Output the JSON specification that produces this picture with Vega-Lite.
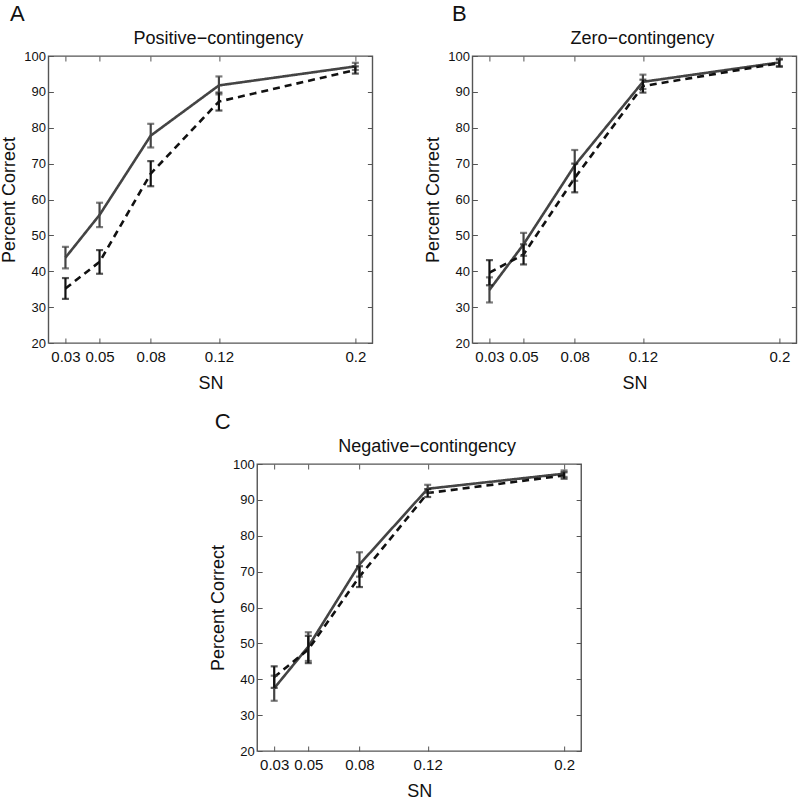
{
  "$schema": "https://vega.github.io/schema/vega-lite/v6.json",
  "padding": {"left": 0, "top": 3, "right": 0, "bottom": 0},
  "background": "white",
  "data": {"values": [
    {"panel": "A", "series": "Series 1", "sn": 0.03, "pc": 43.8, "err": 3.0},
    {"panel": "A", "series": "Series 1", "sn": 0.05, "pc": 55.7, "err": 3.4},
    {"panel": "A", "series": "Series 1", "sn": 0.08, "pc": 77.8, "err": 3.3},
    {"panel": "A", "series": "Series 1", "sn": 0.12, "pc": 91.8, "err": 2.5},
    {"panel": "A", "series": "Series 1", "sn": 0.2, "pc": 97.1, "err": 1.0},
    {"panel": "A", "series": "Series 2", "sn": 0.03, "pc": 35.2, "err": 2.9},
    {"panel": "A", "series": "Series 2", "sn": 0.05, "pc": 42.6, "err": 3.3},
    {"panel": "A", "series": "Series 2", "sn": 0.08, "pc": 67.2, "err": 3.5},
    {"panel": "A", "series": "Series 2", "sn": 0.12, "pc": 87.3, "err": 2.5},
    {"panel": "A", "series": "Series 2", "sn": 0.2, "pc": 96.1, "err": 1.0},
    {"panel": "B", "series": "Series 1", "sn": 0.03, "pc": 34.8, "err": 3.5},
    {"panel": "B", "series": "Series 1", "sn": 0.05, "pc": 47.5, "err": 3.2},
    {"panel": "B", "series": "Series 1", "sn": 0.08, "pc": 69.5, "err": 4.3},
    {"panel": "B", "series": "Series 1", "sn": 0.12, "pc": 92.8, "err": 2.0},
    {"panel": "B", "series": "Series 1", "sn": 0.2, "pc": 98.2, "err": 1.0},
    {"panel": "B", "series": "Series 2", "sn": 0.03, "pc": 39.6, "err": 3.5},
    {"panel": "B", "series": "Series 2", "sn": 0.05, "pc": 44.7, "err": 2.8},
    {"panel": "B", "series": "Series 2", "sn": 0.08, "pc": 66.0, "err": 4.0},
    {"panel": "B", "series": "Series 2", "sn": 0.12, "pc": 91.6, "err": 1.8},
    {"panel": "B", "series": "Series 2", "sn": 0.2, "pc": 98.0, "err": 1.0},
    {"panel": "C", "series": "Series 1", "sn": 0.03, "pc": 37.5, "err": 3.5},
    {"panel": "C", "series": "Series 1", "sn": 0.05, "pc": 49.1, "err": 4.0},
    {"panel": "C", "series": "Series 1", "sn": 0.08, "pc": 72.0, "err": 3.4},
    {"panel": "C", "series": "Series 1", "sn": 0.12, "pc": 93.1, "err": 1.1},
    {"panel": "C", "series": "Series 1", "sn": 0.2, "pc": 97.3, "err": 0.9},
    {"panel": "C", "series": "Series 2", "sn": 0.03, "pc": 40.6, "err": 3.0},
    {"panel": "C", "series": "Series 2", "sn": 0.05, "pc": 48.3, "err": 3.8},
    {"panel": "C", "series": "Series 2", "sn": 0.08, "pc": 68.6, "err": 2.9},
    {"panel": "C", "series": "Series 2", "sn": 0.12, "pc": 91.9, "err": 1.1},
    {"panel": "C", "series": "Series 2", "sn": 0.2, "pc": 96.8, "err": 0.9}
  ]},
  "center": true,
  "spacing": 18,
  "vconcat": [
    {
      "hconcat": [
        {
          "title": {"text": "A", "anchor": "start", "fontSize": 22, "offset": 3, "dx": 10},
          "vconcat": [
            {
              "width": 324, "height": 287,
              "title": {"text": "Positive\u2212contingency", "dx": 8},
              "transform": [{"filter": "datum.panel === 'A'"}],
              "layer": [
                {
                  "mark": {"type": "line", "strokeWidth": 2.6},
                  "encoding": {
                    "x": {"field": "sn", "type": "quantitative", "scale": {"domain": [0.02, 0.21], "nice": false, "zero": false}, "axis": {"orient": "bottom", "values": [0.03, 0.05, 0.08, 0.12, 0.2], "format": "~g", "title": "SN"}},
                    "y": {"field": "pc", "type": "quantitative", "scale": {"domain": [20, 100], "nice": false, "zero": false}, "axis": {"orient": "left", "values": [20, 30, 40, 50, 60, 70, 80, 90, 100], "title": "Percent Correct"}},
                    "color": {"field": "series", "type": "nominal", "scale": {"domain": ["Series 1", "Series 2"], "range": ["#444444", "#111111"]}, "legend": null},
                    "strokeDash": {"field": "series", "type": "nominal", "scale": {"domain": ["Series 1", "Series 2"], "range": [[1, 0], [7, 5]]}, "legend": null}
                  }
                },
                {
                  "mark": {"type": "errorbar", "ticks": true, "size": 7, "thickness": 2.2},
                  "encoding": {
                    "x": {"field": "sn", "type": "quantitative", "axis": {"orient": "top", "values": [0.03, 0.05, 0.08, 0.12, 0.2], "labels": false, "title": null}},
                    "y": {"field": "pc", "type": "quantitative", "axis": {"orient": "right", "values": [20, 30, 40, 50, 60, 70, 80, 90, 100], "labels": false, "title": null}},
                    "yError": {"field": "err"},
                    "color": {"field": "series", "type": "nominal", "scale": {"domain": ["Series 1", "Series 2"], "range": ["#444444", "#111111"]}, "legend": null}
                  }
                }
              ]
            }
          ]
        },
        {
          "title": {"text": "B", "anchor": "start", "fontSize": 22, "offset": 3, "dx": 28},
          "vconcat": [
            {
              "width": 324, "height": 287,
              "title": {"text": "Zero\u2212contingency", "dx": 8},
              "transform": [{"filter": "datum.panel === 'B'"}],
              "layer": [
                {
                  "mark": {"type": "line", "strokeWidth": 2.6},
                  "encoding": {
                    "x": {"field": "sn", "type": "quantitative", "scale": {"domain": [0.02, 0.21], "nice": false, "zero": false}, "axis": {"orient": "bottom", "values": [0.03, 0.05, 0.08, 0.12, 0.2], "format": "~g", "title": "SN"}},
                    "y": {"field": "pc", "type": "quantitative", "scale": {"domain": [20, 100], "nice": false, "zero": false}, "axis": {"orient": "left", "values": [20, 30, 40, 50, 60, 70, 80, 90, 100], "title": "Percent Correct"}},
                    "color": {"field": "series", "type": "nominal", "scale": {"domain": ["Series 1", "Series 2"], "range": ["#444444", "#111111"]}, "legend": null},
                    "strokeDash": {"field": "series", "type": "nominal", "scale": {"domain": ["Series 1", "Series 2"], "range": [[1, 0], [7, 5]]}, "legend": null}
                  }
                },
                {
                  "mark": {"type": "errorbar", "ticks": true, "size": 7, "thickness": 2.2},
                  "encoding": {
                    "x": {"field": "sn", "type": "quantitative", "axis": {"orient": "top", "values": [0.03, 0.05, 0.08, 0.12, 0.2], "labels": false, "title": null}},
                    "y": {"field": "pc", "type": "quantitative", "axis": {"orient": "right", "values": [20, 30, 40, 50, 60, 70, 80, 90, 100], "labels": false, "title": null}},
                    "yError": {"field": "err"},
                    "color": {"field": "series", "type": "nominal", "scale": {"domain": ["Series 1", "Series 2"], "range": ["#444444", "#111111"]}, "legend": null}
                  }
                }
              ]
            }
          ]
        }
      ],
      "spacing": 49
    },
    {
      "title": {"text": "C", "anchor": "start", "fontSize": 22, "offset": 3, "dx": 6},
      "vconcat": [
        {
          "width": 324, "height": 287,
          "title": {"text": "Negative\u2212contingency", "dx": 8},
          "transform": [{"filter": "datum.panel === 'C'"}],
          "layer": [
            {
              "mark": {"type": "line", "strokeWidth": 2.6},
              "encoding": {
                "x": {"field": "sn", "type": "quantitative", "scale": {"domain": [0.02, 0.21], "nice": false, "zero": false}, "axis": {"orient": "bottom", "values": [0.03, 0.05, 0.08, 0.12, 0.2], "format": "~g", "title": "SN"}},
                "y": {"field": "pc", "type": "quantitative", "scale": {"domain": [20, 100], "nice": false, "zero": false}, "axis": {"orient": "left", "values": [20, 30, 40, 50, 60, 70, 80, 90, 100], "title": "Percent Correct"}},
                "color": {"field": "series", "type": "nominal", "scale": {"domain": ["Series 1", "Series 2"], "range": ["#444444", "#111111"]}, "legend": null},
                "strokeDash": {"field": "series", "type": "nominal", "scale": {"domain": ["Series 1", "Series 2"], "range": [[1, 0], [7, 5]]}, "legend": null}
              }
            },
            {
              "mark": {"type": "errorbar", "ticks": true, "size": 7, "thickness": 2.2},
              "encoding": {
                "x": {"field": "sn", "type": "quantitative", "axis": {"orient": "top", "values": [0.03, 0.05, 0.08, 0.12, 0.2], "labels": false, "title": null}},
                "y": {"field": "pc", "type": "quantitative", "axis": {"orient": "right", "values": [20, 30, 40, 50, 60, 70, 80, 90, 100], "labels": false, "title": null, "minExtent": 7}},
                "yError": {"field": "err"},
                "color": {"field": "series", "type": "nominal", "scale": {"domain": ["Series 1", "Series 2"], "range": ["#444444", "#111111"]}, "legend": null}
              }
            }
          ]
        }
      ]
    }
  ],
  "config": {
    "font": "Liberation Sans",
    "view": {"stroke": "#555555", "strokeWidth": 1.4},
    "axis": {"domain": false, "grid": false, "tickSize": -5, "tickColor": "#555555", "tickWidth": 1, "labelFont": "Liberation Sans", "labelColor": "#111111", "titleFont": "Liberation Sans", "titleFontWeight": "normal", "titleColor": "#111111", "titleFontSize": 18, "minExtent": 0, "labelPadding": 5},
    "axisX": {"labelFontSize": 15, "labelPadding": 11, "titlePadding": 10},
    "axisY": {"labelFontSize": 13, "labelPadding": 8, "titlePadding": 5},
    "title": {"font": "Liberation Sans", "fontSize": 18, "fontWeight": "normal", "color": "#111111", "offset": 2}
  }
}
